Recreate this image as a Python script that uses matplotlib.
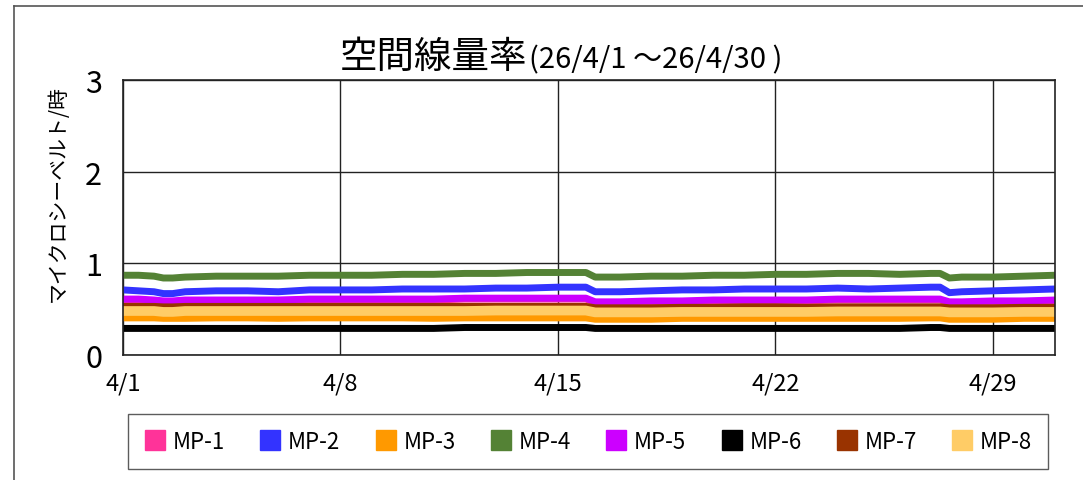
import matplotlib
matplotlib.use("Agg")
import matplotlib.pyplot as plt
from matplotlib.lines import Line2D

plt.rcParams['font.family'] = ['Noto Sans CJK JP', 'DejaVu Sans']

# time in days from 4/1 00:00
t = [0, 0.5, 1, 1.3, 1.6, 2, 3, 4, 5, 6, 7, 8, 9, 10, 11, 12, 13, 14, 14.9, 15.2,
     16, 17, 18, 19, 20, 21, 22, 23, 24, 25, 26, 26.3, 26.6, 27, 28, 29, 30]

mp1 = [0.60, 0.60, 0.59, 0.58, 0.58, 0.59, 0.59, 0.59, 0.59, 0.60, 0.60, 0.60, 0.60, 0.60, 0.61, 0.61, 0.61, 0.61, 0.61, 0.57,
       0.57, 0.58, 0.58, 0.59, 0.59, 0.59, 0.59, 0.60, 0.60, 0.60, 0.60, 0.60, 0.57, 0.57, 0.58, 0.58, 0.59]
mp2 = [0.71, 0.70, 0.69, 0.67, 0.67, 0.69, 0.70, 0.70, 0.69, 0.71, 0.71, 0.71, 0.72, 0.72, 0.72, 0.73, 0.73, 0.74, 0.74, 0.69,
       0.69, 0.70, 0.71, 0.71, 0.72, 0.72, 0.72, 0.73, 0.72, 0.73, 0.74, 0.74, 0.68, 0.69, 0.70, 0.71, 0.72]
mp3 = [0.405, 0.405, 0.405, 0.40, 0.40, 0.40, 0.405, 0.405, 0.40, 0.405, 0.405, 0.405, 0.405, 0.40, 0.405, 0.405, 0.405, 0.405, 0.405, 0.39,
       0.39, 0.39, 0.40, 0.40, 0.40, 0.40, 0.40, 0.40, 0.40, 0.40, 0.405, 0.405, 0.39, 0.39, 0.39, 0.40, 0.40]
mp4 = [0.87, 0.87, 0.86, 0.84, 0.84, 0.85, 0.86, 0.86, 0.86, 0.87, 0.87, 0.87, 0.88, 0.88, 0.89, 0.89, 0.90, 0.90, 0.90, 0.85,
       0.85, 0.86, 0.86, 0.87, 0.87, 0.88, 0.88, 0.89, 0.89, 0.88, 0.89, 0.89, 0.84, 0.85, 0.85, 0.86, 0.87]
mp5 = [0.61, 0.61, 0.60, 0.59, 0.59, 0.60, 0.60, 0.60, 0.60, 0.61, 0.61, 0.61, 0.61, 0.61, 0.62, 0.62, 0.62, 0.62, 0.62, 0.58,
       0.58, 0.59, 0.59, 0.60, 0.60, 0.60, 0.60, 0.61, 0.61, 0.61, 0.61, 0.61, 0.58, 0.58, 0.59, 0.59, 0.60]
mp6 = [0.29, 0.29, 0.29, 0.29, 0.29, 0.29, 0.29, 0.29, 0.29, 0.29, 0.29, 0.29, 0.29, 0.29, 0.30, 0.30, 0.30, 0.30, 0.30, 0.29,
       0.29, 0.29, 0.29, 0.29, 0.29, 0.29, 0.29, 0.29, 0.29, 0.29, 0.30, 0.30, 0.29, 0.29, 0.29, 0.29, 0.29]
mp7 = [0.53, 0.53, 0.53, 0.525, 0.525, 0.53, 0.53, 0.53, 0.53, 0.53, 0.53, 0.53, 0.53, 0.53, 0.53, 0.53, 0.53, 0.53, 0.53, 0.515,
       0.515, 0.515, 0.52, 0.52, 0.525, 0.525, 0.52, 0.525, 0.525, 0.525, 0.525, 0.525, 0.515, 0.515, 0.515, 0.52, 0.52]
mp8 = [0.48, 0.48, 0.48, 0.47, 0.47, 0.48, 0.48, 0.48, 0.48, 0.48, 0.48, 0.48, 0.48, 0.48, 0.48, 0.485, 0.485, 0.485, 0.485, 0.465,
       0.465, 0.465, 0.47, 0.47, 0.47, 0.47, 0.47, 0.475, 0.475, 0.475, 0.475, 0.475, 0.465, 0.465, 0.465, 0.47, 0.47]

names = ["MP-1", "MP-2", "MP-3", "MP-4", "MP-5", "MP-6", "MP-7", "MP-8"]
series = [mp1, mp2, mp3, mp4, mp5, mp6, mp7, mp8]
colors = ["#FF3399", "#3333FF", "#FF9900", "#548235", "#CC00FF", "#000000", "#993300", "#FFCC66"]
widths = [5, 5, 5, 5, 5, 5, 5, 7]

tick_days = [0, 7, 14, 21, 28]
tick_labels = ["4/1", "4/8", "4/15", "4/22", "4/29"]

fig = plt.figure(figsize=(10.83, 4.81), dpi=100)
ax = fig.add_axes([123/1083, 1 - 356/481, 932/1083, 275/481])

for vals, c, w in zip(series, colors, widths):
    ax.plot(t, vals, color=c, linewidth=w, solid_capstyle="butt")

ax.set_xlim(0, 30)
ax.set_ylim(0, 3)
ax.set_yticks([0, 1, 2, 3])
ax.set_xticks(tick_days)
ax.set_xticklabels(tick_labels)
ax.tick_params(axis="y", length=0, pad=15, labelsize=22)
ax.tick_params(axis="x", length=0, pad=12, labelsize=17)
ax.grid(True, color="#222222", linewidth=1.0)
for s in ax.spines.values():
    s.set_color("#222222")
    s.set_linewidth(1.2)
ax.set_ylabel("マイクロシーベルト/時", fontsize=15)
ax.yaxis.set_label_coords(-0.058, 0.59)

# title in two parts (kanji larger)
fig.text(527/1083, 1 - 68/481, "空間線量率", fontsize=27, ha="right", va="baseline")
fig.text(529/1083, 1 - 68/481, "(26/4/1 ～26/4/30 )", fontsize=21, ha="left", va="baseline")

# outer frame
fig.add_artist(Line2D([14/1083, 14/1083], [0, 1 - 7/481], transform=fig.transFigure, color="#555555", linewidth=1.2))
fig.add_artist(Line2D([14/1083, 1], [1 - 7/481, 1 - 7/481], transform=fig.transFigure, color="#555555", linewidth=1.2))

handles = [Line2D([], [], marker="s", linestyle="none", markersize=14, color=c) for c in colors]
leg = fig.legend(handles, names, ncol=8, loc="center", mode="expand",
                 bbox_to_anchor=(117/1083, 1 - 472/481, 942/1083, 59/481),
                 fontsize=16, frameon=True, fancybox=False, handletextpad=0.3,
                 borderpad=0.7, handlelength=1.0)
leg.get_frame().set_edgecolor("#333333")
leg.get_frame().set_linewidth(1.0)

fig.savefig("out.png", dpi=100)
